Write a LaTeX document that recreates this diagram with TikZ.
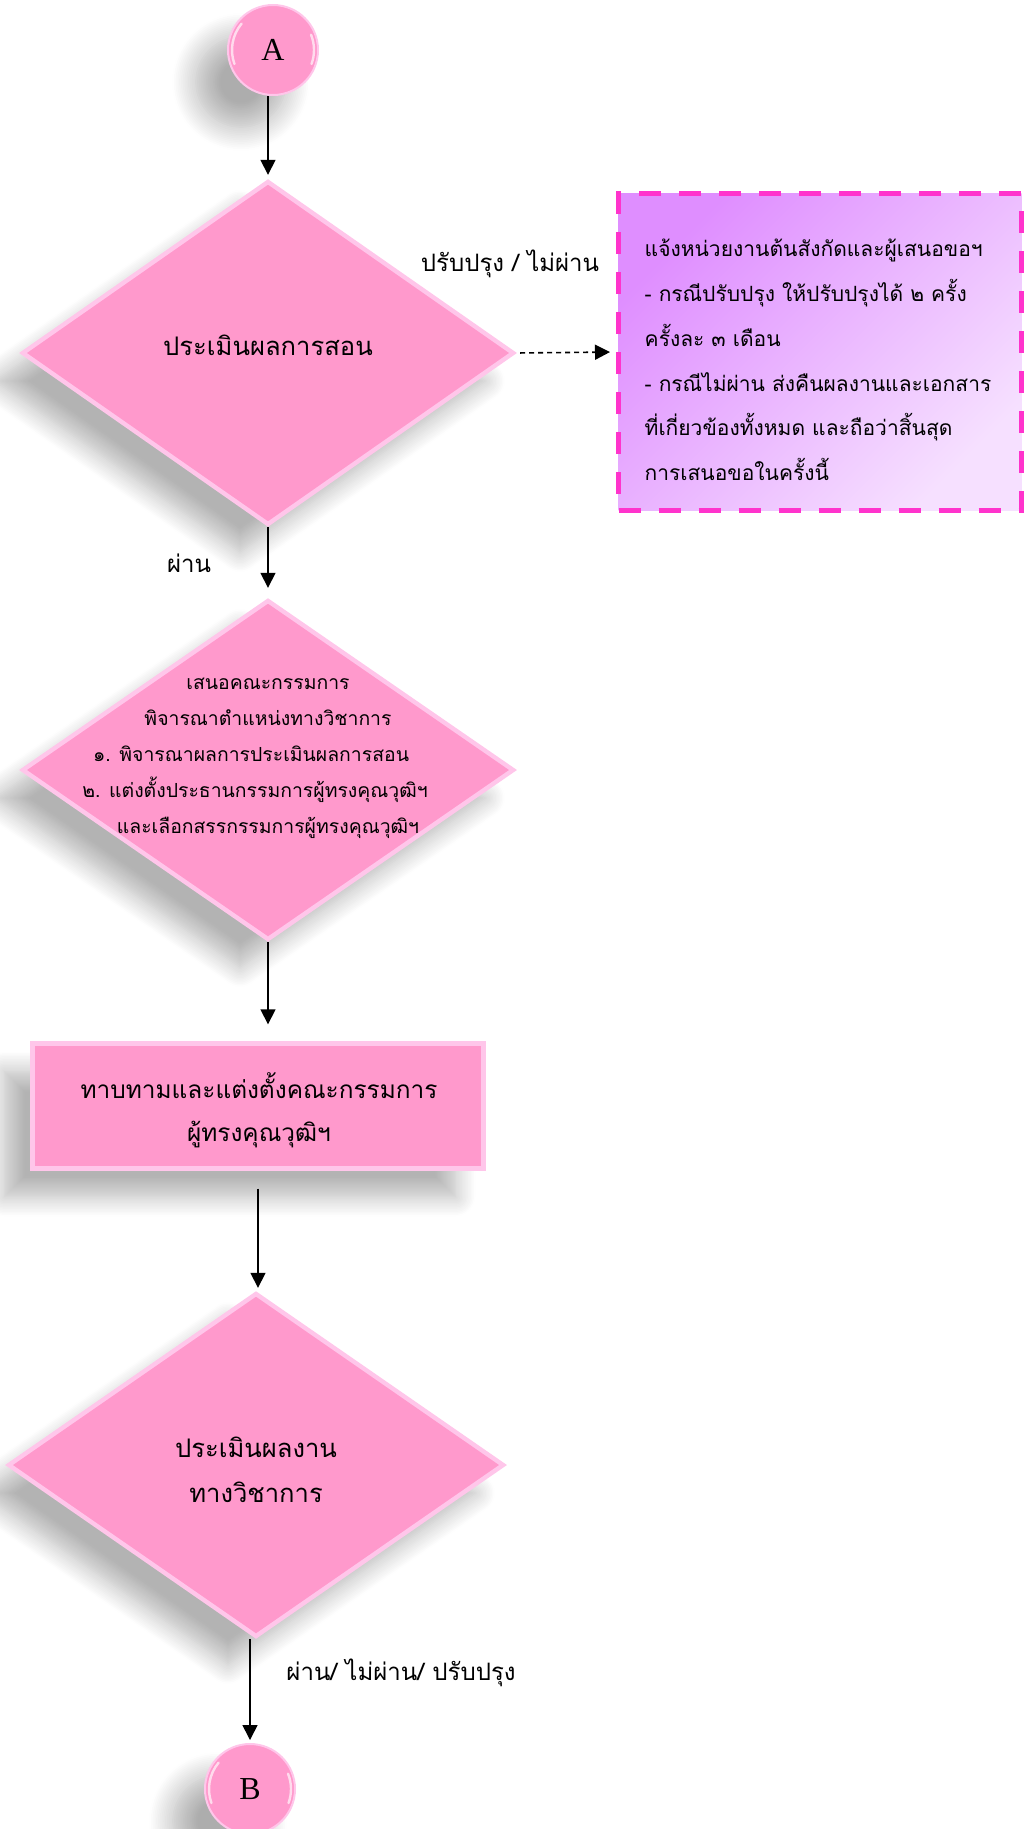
\documentclass[tikz,border=0pt]{standalone}
\usepackage{fontspec}
\setmainfont{Liberation Serif}
\newfontfamily\thaifont[Script=Thai]{Loma}
\usetikzlibrary{shapes.geometric,arrows.meta,shadows.blur}

\definecolor{rosefill}{RGB}{255,153,204}
\definecolor{rosebevel}{RGB}{255,198,234}
\definecolor{noteviolet}{RGB}{223,142,255}
\definecolor{notepale}{RGB}{246,224,255}
\definecolor{notedash}{RGB}{255,51,204}

\tikzset{
  softshadow/.style={blur shadow={shadow xshift=-14pt, shadow yshift=-14pt,
      shadow blur radius=10pt, shadow blur steps=14, shadow opacity=30}},
  roundshadow/.style={blur shadow={shadow xshift=-16pt, shadow yshift=-16pt,
      shadow blur radius=12pt, shadow blur steps=14, shadow opacity=32}},
  decision/.style={diamond, fill=rosefill, draw=rosebevel, line width=2.2pt,
      inner sep=0pt, softshadow},
  process/.style={rectangle, fill=rosefill, draw=rosebevel, line width=2.2pt,
      inner sep=0pt, softshadow},
  connector/.style={circle, fill=rosefill, draw=rosebevel, line width=1pt,
      minimum size=45pt, inner sep=0pt, font=\fontsize{16}{16}\selectfont, roundshadow},
  gloss/.style={white, opacity=0.65, line width=1.2pt, line cap=round},
  flowtext/.style={align=center, inner sep=0pt},
  note/.style={rectangle, draw=notedash, line width=2.5pt, dash pattern=on 11pt off 9pt,
      top color=noteviolet, bottom color=notepale, shading angle=45,
      minimum width=201.5pt, minimum height=158pt, inner sep=0pt},
  notetext/.style={align=left, inner sep=0pt,
      font=\thaifont\fontsize{10.5}{22.4}\selectfont},
  flow/.style={-{Triangle[length=7.5pt,width=7.5pt]}, line width=0.8pt},
  dashflow/.style={flow, dash pattern=on 2.5pt off 2pt},
  edgelabel/.style={font=\thaifont\fontsize{12}{14}\selectfont, inner sep=0pt},
}

\begin{document}
\begin{tikzpicture}[x=0.5pt, y=-0.5pt]
\useasboundingbox (0,0) rectangle (1030,1829);

% connector A
\node[connector] (A) at (273,50) {A};
\draw[gloss] ([shift={(140:20.5pt)}]A.center) arc[start angle=140, end angle=200, radius=20.5pt];
\draw[gloss] ([shift={(-20:20.5pt)}]A.center) arc[start angle=-20, end angle=22, radius=20.5pt];

% first decision: teaching evaluation
\node[decision, minimum width=246pt, minimum height=172pt] (D1) at (268,353) {};
\node[flowtext, font=\thaifont\fontsize{12.8}{18}\selectfont] (D1t) at (268,345) {ประเมินผลการสอน};

% note box for revise / fail
\node[note] (N) at (820,352) {};
\node[notetext] (Nt) at (818,360) {แจ้งหน่วยงานต้นสังกัดและผู้เสนอขอฯ\\
- กรณีปรับปรุง ให้ปรับปรุงได้ ๒ ครั้ง\\
ครั้งละ ๓ เดือน\\
- กรณีไม่ผ่าน ส่งคืนผลงานและเอกสาร\\
ที่เกี่ยวข้องทั้งหมด และถือว่าสิ้นสุด\\
การเสนอขอในครั้งนี้};

% second decision: committee consideration
\node[decision, minimum width=246pt, minimum height=170pt] (D2) at (268,770) {};
\node[flowtext, font=\thaifont\fontsize{9.7}{18}\selectfont] (D2t) at (268,758)
  {เสนอคณะกรรมการ\\
   พิจารณาตำแหน่งทางวิชาการ\\
   \mbox{๑. พิจารณาผลการประเมินผลการสอน\hspace{17pt}}\\
   \mbox{๒. แต่งตั้งประธานกรรมการผู้ทรงคุณวุฒิฯ\hspace{13pt}}\\
   และเลือกสรรกรรมการผู้ทรงคุณวุฒิฯ};

% process: appoint the expert committee
\node[process, minimum width=225.5pt, minimum height=62.5pt] (R) at (258,1106) {};
\node[flowtext, font=\thaifont\fontsize{12.2}{21.5}\selectfont] (Rt) at (259,1110)
  {ทาบทามและแต่งตั้งคณะกรรมการ\\ผู้ทรงคุณวุฒิฯ};

% third decision: academic work evaluation
\node[decision, minimum width=248pt, minimum height=172pt] (D3) at (256,1465) {};
\node[flowtext, font=\thaifont\fontsize{12.8}{22.5}\selectfont] (D3t) at (256,1470)
  {ประเมินผลงาน\\ทางวิชาการ};

% connector B
\node[connector] (B) at (250,1789) {B};
\draw[gloss] ([shift={(140:20.5pt)}]B.center) arc[start angle=140, end angle=200, radius=20.5pt];
\draw[gloss] ([shift={(-20:20.5pt)}]B.center) arc[start angle=-20, end angle=22, radius=20.5pt];

% flow lines
\draw[flow, shorten >=2pt] (D1.north |- A.south) -- (D1.north);
\draw[dashflow, shorten <=2pt, shorten >=3pt] (D1.east) -- (N.west);
\draw[flow, shorten >=5pt] (D1.south) -- (D2.north);
\draw[flow, shorten >=8.5pt] (D2.south) -- (D2.south |- R.north);
\draw[flow, shorten <=9pt, shorten >=1.5pt] (R.south) -- (R.south |- D3.north);
\draw[flow, shorten >=1.5pt] (B.north |- D3.south) -- (B.north);

% branch labels
\node[edgelabel] (L1) at (510,264) {ปรับปรุง / ไม่ผ่าน};
\node[edgelabel] (L2) at (189,563) {ผ่าน};
\node[edgelabel] (L3) at (401,1673) {ผ่าน/ ไม่ผ่าน/ ปรับปรุง};
\end{tikzpicture}
\end{document}
